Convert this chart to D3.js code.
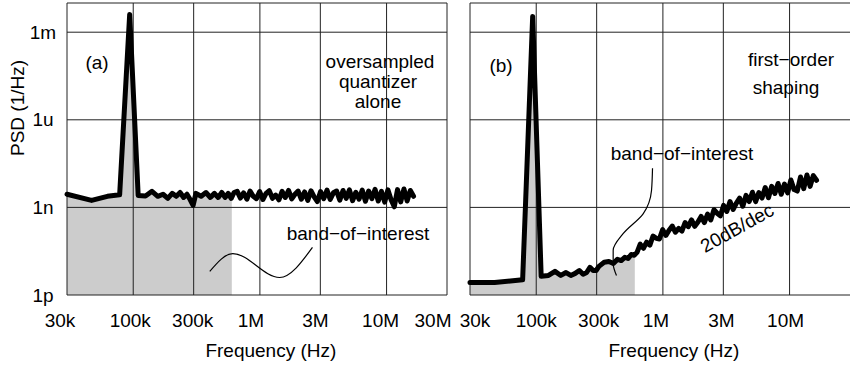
<!DOCTYPE html>
<html>
<head>
<meta charset="utf-8">
<script src="https://cdn.jsdelivr.net/npm/d3@7"></script>
<style>
  body { margin: 0; background: #fff; }
  text { font-family: "Liberation Sans", Arial, sans-serif; font-size: 19px; fill: #000; }
</style>
</head>
<body>
<div id="chart"></div>
<script>
"use strict";

// frequency points (kHz) shared by both spectra
const freqKHz = [30, 46.9, 62.5, 78.1, 93.75, 109.4, 125, 140.6, 156.3, 171.9, 187.5, 203.1, 218.8, 234.4, 250,
    265.6, 281.3, 296.9, 312.5, 343.8, 375, 406.3, 437.5, 468.8, 500, 531.3, 562.5, 593.8, 625,
    662, 702, 744, 789, 836, 886, 939, 996, 1056, 1119, 1186, 1257, 1333, 1413, 1497, 1587, 1683, 1784, 1891, 2004,
    2124, 2252, 2387, 2530, 2682, 2843, 3013, 3194, 3386, 3589, 3804, 4032, 4274, 4531, 4803, 5091, 5396, 5720, 6063, 6427,
    6812, 7221, 7654, 8114, 8600, 9116, 9663, 10243, 10858, 11509, 12200, 12932, 13708, 14530, 15402, 16326];

// log10 of PSD (1/Hz)
// (a) oversampled quantizer alone
const psdA = [-8.55, -8.76, -8.62, -8.57, -2.39, -8.59, -8.61, -8.45, -8.62, -8.55, -8.69, -8.52, -8.62, -8.49, -8.66,
    -8.55, -8.73, -8.93, -8.52, -8.62, -8.49, -8.66, -8.52, -8.66, -8.49, -8.66, -8.52, -8.69, -8.49,
    -8.45, -8.68, -8.50, -8.72, -8.44, -8.62, -8.70, -8.46, -8.73, -8.52, -8.43, -8.69, -8.58, -8.74, -8.45, -8.66, -8.42, -8.71, -8.55, -8.44,
    -8.72, -8.47, -8.76, -8.43, -8.64, -8.80, -8.46, -8.70, -8.41, -8.73, -8.50, -8.44, -8.75, -8.42, -8.69, -8.40, -8.77, -8.48, -8.72, -8.41,
    -8.79, -8.44, -8.70, -8.38, -8.78, -8.45, -8.82, -8.40, -8.74, -8.98, -8.39, -8.81, -8.37, -8.78, -8.42, -8.62];

// (b) first-order shaping
const psdB = [-11.57, -11.57, -11.52, -11.48, -2.46, -11.36, -11.33, -11.19, -11.33, -11.23, -11.33, -11.26, -11.16, -11.29, -11.23,
    -11.05, -11.16, -11.16, -11.02, -10.88, -10.85, -10.92, -10.78, -10.82, -10.71, -10.75, -10.61, -10.64, -10.54,
    -10.26, -10.40, -10.19, -10.29, -9.98, -10.06, -10.08, -9.76, -9.96, -9.78, -9.64, -9.85, -9.72, -9.81, -9.52, -9.66, -9.43, -9.65, -9.50, -9.31,
    -9.52, -9.23, -9.43, -9.08, -9.20, -9.29, -8.93, -9.14, -8.80, -9.07, -8.85, -8.68, -8.96, -8.59, -8.80, -8.48, -8.80, -8.49, -8.68, -8.32,
    -8.67, -8.28, -8.52, -8.18, -8.55, -8.20, -8.50, -8.06, -8.39, -8.44, -7.96, -8.36, -7.89, -8.28, -7.91, -8.07];

const bandEdge = 600e3; // end of band-of-interest (Hz)

const xTicks = [30e3, 100e3, 300e3, 1e6, 3e6, 10e6, 30e6];
const xTickLabels = ["30k", "100k", "300k", "1M", "3M", "10M", "30M"];
const yTicks = [1e-12, 1e-9, 1e-6, 1e-3];
const yTickLabels = ["1p", "1n", "1u", "1m"];

// leader lines for the "band-of-interest" notes, in [Hz, log10 PSD]
const leaderA = [[402e3, -11.19], [611e3, -10.58], [1.43e6, -11.40], [2.6e6, -10.37]];
const leaderB = [[828e3, -7.66], [813e3, -8.42], [698e3, -9.22], [485e3, -9.90], [405e3, -10.47], [405e3, -10.93], [430e3, -11.33]];

const W = 850, H = 365;
const plotTop = 3, plotBottom = 295, panelW = 380;
// tick labels are not exactly centred on their grid lines in the original
const tickNudge = { a: [-7, -3, -1, -9, -5, -6, -14], b: [5, 0, 2, -7, -2, -4] };

const svg = d3.select("#chart").append("svg")
    .attr("width", W)
    .attr("height", H);

const panels = [
    { key: "a", left: 67, psd: psdA, ticks: xTicks.length, leader: leaderA, leaderCurve: d3.curveMonotoneX },
    { key: "b", left: 470, psd: psdB, ticks: xTicks.length - 1, leader: leaderB, leaderCurve: d3.curveMonotoneY }
];

const y = d3.scaleLog().domain([1e-12, 1e-2]).range([plotBottom, plotTop]);

panels.forEach(p => {
    const x = d3.scaleLog().domain([30e3, 30e6]).range([p.left, p.left + panelW]);
    const data = freqKHz.map((f, i) => ({ f: f * 1e3, v: Math.pow(10, p.psd[i]) }));

    const g = svg.append("g");

    // grey area under the curve inside the band of interest
    g.append("clipPath").attr("id", "band-" + p.key)
        .append("rect")
        .attr("x", x(30e3)).attr("y", plotTop)
        .attr("width", x(bandEdge) - x(30e3)).attr("height", plotBottom - plotTop);

    g.append("path")
        .datum(data)
        .attr("clip-path", `url(#band-${p.key})`)
        .attr("fill", "#cccccc")
        .attr("d", d3.area().x(d => x(d.f)).y0(plotBottom).y1(d => y(d.v)));

    // grid + frame
    const right = Math.min(x(30e6), W);
    g.selectAll(".vgrid")
        .data(xTicks.filter(t => x(t) < W - 1))
        .join("line")
        .attr("x1", d => x(d)).attr("x2", d => x(d))
        .attr("y1", plotTop).attr("y2", plotBottom)
        .attr("stroke", "#222").attr("stroke-width", 1);

    g.selectAll(".hgrid")
        .data(yTicks.concat([1e-2]))
        .join("line")
        .attr("x1", x(30e3)).attr("x2", right)
        .attr("y1", d => y(d)).attr("y2", d => y(d))
        .attr("stroke", "#222").attr("stroke-width", 1);

    // spectrum
    g.append("path")
        .datum(data)
        .attr("fill", "none")
        .attr("stroke", "#000")
        .attr("stroke-width", 5)
        .attr("stroke-linejoin", "round")
        .attr("stroke-linecap", "round")
        .attr("d", d3.line().x(d => x(d.f)).y(d => y(d.v)));

    // x tick labels
    g.selectAll(".xlab")
        .data(xTicks.slice(0, p.ticks))
        .join("text")
        .attr("x", (d, i) => x(d) + tickNudge[p.key][i])
        .attr("y", 320)
        .attr("text-anchor", "middle")
        .attr("dominant-baseline", "central")
        .text((d, i) => xTickLabels[i]);

    g.append("text")
        .attr("x", x(1e6) + 11)
        .attr("y", 350)
        .attr("text-anchor", "middle")
        .attr("dominant-baseline", "central")
        .text("Frequency (Hz)");

    // leader curve
    g.append("path")
        .datum(p.leader)
        .attr("fill", "none")
        .attr("stroke", "#000")
        .attr("stroke-width", 1.2)
        .attr("d", d3.line().curve(p.leaderCurve).x(d => x(d[0])).y(d => y(Math.pow(10, d[1]))));
});

// y axis (left panel only)
svg.selectAll(".ylab")
    .data(yTicks)
    .join("text")
    .attr("x", 43)
    .attr("y", d => y(d))
    .attr("text-anchor", "middle")
    .attr("dominant-baseline", "central")
    .text((d, i) => yTickLabels[i]);

svg.append("text")
    .attr("transform", "translate(17,108) rotate(-90)")
    .attr("text-anchor", "middle")
    .attr("dominant-baseline", "central")
    .text("PSD (1/Hz)");

// notes
const notes = [
    { t: "(a)", x: 97, y: 62 },
    { t: "oversampled", x: 380, y: 61 },
    { t: "quantizer", x: 378, y: 81 },
    { t: "alone", x: 378, y: 101 },
    { t: "band\u2212of\u2212interest", x: 358, y: 233 },
    { t: "(b)", x: 501, y: 65 },
    { t: "first\u2212order", x: 791, y: 59 },
    { t: "shaping", x: 786, y: 87 },
    { t: "band\u2212of\u2212interest", x: 682, y: 153 }
];
svg.selectAll(".note")
    .data(notes)
    .join("text")
    .attr("x", d => d.x)
    .attr("y", d => d.y)
    .attr("text-anchor", "middle")
    .attr("dominant-baseline", "central")
    .text(d => d.t);

svg.append("text")
    .attr("transform", "translate(737,228) rotate(-29)")
    .attr("text-anchor", "middle")
    .attr("dominant-baseline", "central")
    .text("20dB/dec");
</script>
</body>
</html>
